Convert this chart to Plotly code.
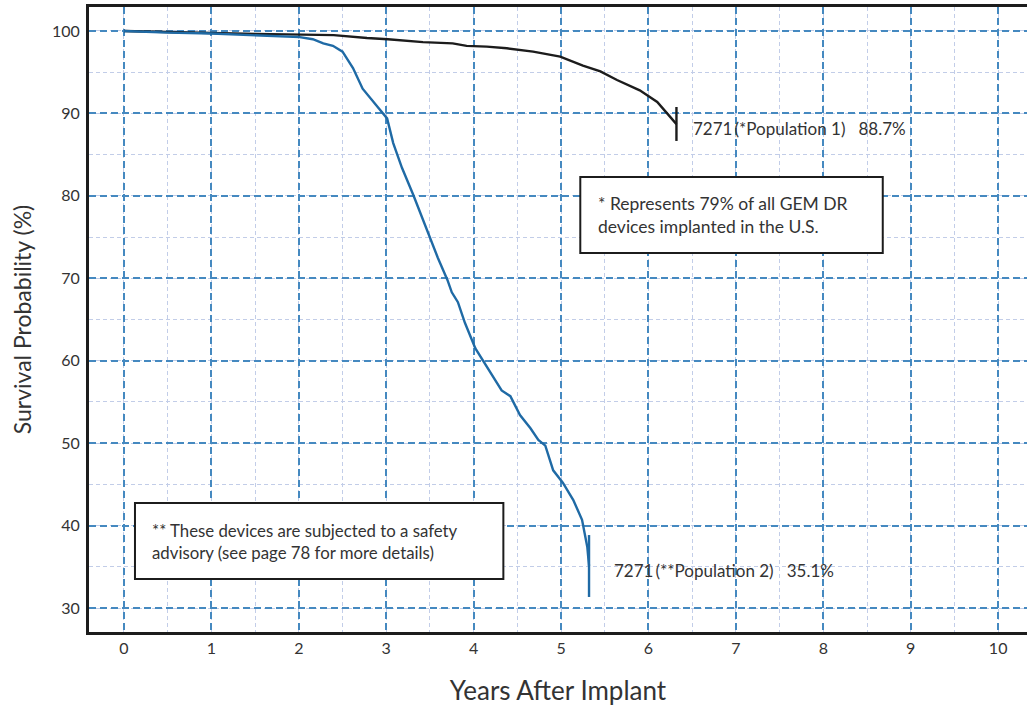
import plotly.graph_objects as go

# ---- data ----
pop1_x = [0, 0.5, 1.0, 1.5, 2.0, 2.4, 2.78, 3.02, 3.42, 3.76, 3.92, 4.15, 4.38, 4.68, 4.99,
          5.25, 5.45, 5.64, 5.9, 6.1, 6.32]
pop1_y = [100, 99.85, 99.75, 99.65, 99.55, 99.5, 99.15, 99.0, 98.65, 98.5, 98.2, 98.1, 97.9,
          97.5, 96.9, 95.8, 95.1, 94.05, 92.8, 91.4, 88.7]

pop2_x = [0, 0.5, 1.0, 1.5, 1.75, 2.01, 2.16, 2.28, 2.39, 2.5, 2.62, 2.73, 2.9, 3.01, 3.08,
          3.18, 3.31, 3.41, 3.5, 3.59, 3.7, 3.75, 3.82, 3.9, 4.02, 4.1, 4.21, 4.32, 4.42,
          4.53, 4.65, 4.74, 4.82, 4.91, 5.02, 5.14, 5.24, 5.3, 5.32]
pop2_y = [100, 99.8, 99.7, 99.45, 99.3, 99.25, 99.0, 98.5, 98.2, 97.5, 95.5, 93.0, 90.8, 89.4,
          86.4, 83.4, 80.1, 77.4, 74.9, 72.5, 69.8, 68.3, 67.1, 64.6, 61.5, 60.1, 58.3, 56.4,
          55.7, 53.4, 51.8, 50.4, 49.7, 46.7, 45.2, 43.1, 40.7, 37.4, 35.1]

# confidence bars at the last point
pop1_ci = [86.66, 90.78]
pop2_ci = [31.34, 38.85]

n_devices = [7271, 7271]
pop_labels = ["*Population 1", "**Population 2"]
final_pct = ["88.7%", "35.1%"]

x_ticks = list(range(0, 11))
y_ticks = list(range(30, 101, 10))

FONT = "Lato"
TXT = "#333333"
BLACK = "#1c1c1c"
BLUE = "#1f6aa5"
MAJOR = "#4589c0"
MINOR = "#c2cde8"

fig = go.Figure()
fig.add_trace(go.Scatter(x=pop1_x, y=pop1_y, mode="lines",
                         line=dict(color=BLACK, width=2.4), showlegend=False))
fig.add_trace(go.Scatter(x=[pop1_x[-1]] * 2, y=pop1_ci, mode="lines",
                         line=dict(color=BLACK, width=2.4), showlegend=False))
fig.add_trace(go.Scatter(x=pop2_x, y=pop2_y, mode="lines",
                         line=dict(color=BLUE, width=2.4), showlegend=False))
fig.add_trace(go.Scatter(x=[pop2_x[-1]] * 2, y=pop2_ci, mode="lines",
                         line=dict(color=BLUE, width=2.4), showlegend=False))

nb = "\u00a0"
ts = "\u2009"
annotations = [
    dict(x=6.49, y=88.23, xref="x", yref="y", xanchor="left", yanchor="middle",
         text=f"{n_devices[0]}{ts}({pop_labels[0]}){nb*3}{final_pct[0]}",
         showarrow=False, font=dict(family=FONT, size=17, color=TXT)),
    dict(x=5.58, y=34.5, xref="x", yref="y", xanchor="left", yanchor="middle",
         text=f"{n_devices[1]}{ts}({pop_labels[1]}){nb*3}{final_pct[1]}",
         showarrow=False, font=dict(family=FONT, size=17, color=TXT)),
    dict(x=5.40, y=77.7, xref="x", yref="y", xanchor="left", yanchor="middle", align="left",
         text="* Represents 79% of all GEM DR<br>devices implanted in the U.S.",
         showarrow=False, font=dict(family=FONT, size=17.5, color=TXT)),
    dict(x=0.30, y=38.1, xref="x", yref="y", xanchor="left", yanchor="middle", align="left",
         text="** These devices are subjected to a safety<br>advisory (see page 78 for more details)",
         showarrow=False, font=dict(family=FONT, size=16.8, color=TXT)),
]

shapes = [
    dict(type="rect", xref="x", yref="y", x0=5.22, x1=8.68, y0=73.07, y1=82.29,
         fillcolor="white", line=dict(color=BLACK, width=2), layer="above"),
    dict(type="rect", xref="x", yref="y", x0=0.126, x1=4.34, y0=33.52, y1=42.74,
         fillcolor="white", line=dict(color=BLACK, width=2), layer="above"),
]

fig.update_layout(
    width=1027, height=708,
    margin=dict(l=89, r=0, t=7, b=76),
    paper_bgcolor="white", plot_bgcolor="white",
    font=dict(family=FONT, color=TXT),
    annotations=annotations, shapes=shapes,
    xaxis=dict(range=[-0.40, 10.33], tickvals=x_ticks, ticktext=[str(v) for v in x_ticks],
               showgrid=True, gridcolor=MAJOR, gridwidth=1.5, griddash="7px,4px",
               minor=dict(dtick=0.5, tick0=0, showgrid=True, gridcolor=MINOR,
                          gridwidth=1.3, griddash="4px,3px"),
               showline=True, linecolor=BLACK, linewidth=3, mirror=True,
               zeroline=False, ticks="", tickfont=dict(family=FONT, size=16, color=TXT),
               title=dict(text="Years After Implant", font=dict(family=FONT, size=26, color=TXT),
                          standoff=26)),
    yaxis=dict(range=[27.09, 102.91], tickvals=y_ticks, ticktext=[str(v) for v in y_ticks],
               showgrid=True, gridcolor=MAJOR, gridwidth=1.5, griddash="7px,4px",
               minor=dict(dtick=5, tick0=0, showgrid=True, gridcolor=MINOR,
                          gridwidth=1.3, griddash="4px,3px"),
               showline=True, linecolor=BLACK, linewidth=3, mirror=False,
               zeroline=False, ticks="", ticklabelstandoff=3,
               tickfont=dict(family=FONT, size=16, color=TXT),
               title=dict(text="Survival Probability (%)", font=dict(family=FONT, size=23, color=TXT),
                          standoff=14)),
)

fig.write_html("out.html")
